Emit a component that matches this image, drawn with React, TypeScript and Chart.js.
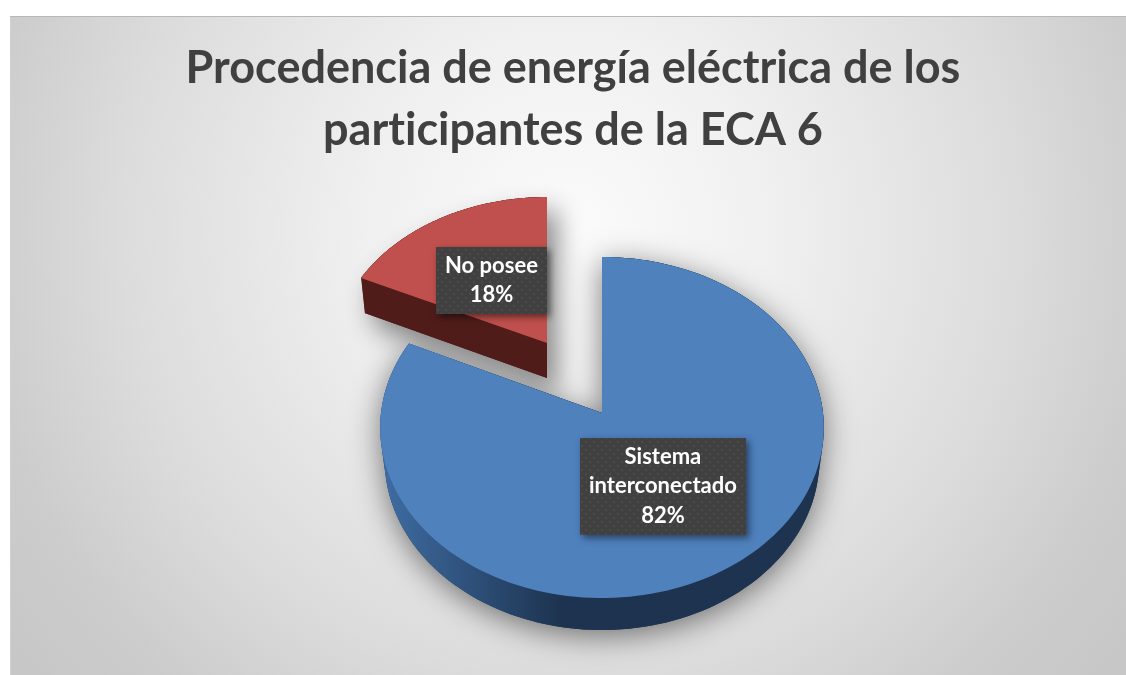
import React, { useEffect, useRef } from "react";
import { Chart, registerables } from "chart.js";

Chart.register(...registerables);

const categories = ["Sistema interconectado", "No posee"];
const seriesValues = [82, 18];
const titleLines = ["Procedencia de energía eléctrica de los", "participantes de la ECA 6"];

const FONT = "Lato, sans-serif";
const sliceLook = [
  { ax: 602, ay: 413, a: 221, b: 169.3, k: -0.085, depth: 32, labelDy: -1, top: "#4f81bd", side: ["#3f6da3", "#1d3350"], shadow: { x: 0, y: 6, blur: 30, c: "rgba(0,0,0,0.5)" } },
  { ax: 547, ay: 343, a: 212.7, b: 157.8, k: -0.081, depth: 35, labelDy: 2, top: "#c0504d", side: ["#4f1c1a", "#4f1c1a"], shadow: { x: 10, y: 14, blur: 26, c: "rgba(0,0,0,0.45)" } },
];

type Look = (typeof sliceLook)[number];

function project(s: Look, theta: number, r: number, t: number) {
  const x = r * Math.sin(theta);
  const y = -r * Math.cos(theta);
  const w = 1 + s.k * y;
  const shrink = 1 - 0.02 * (t / s.depth);
  return [s.ax + (shrink * s.a * x) / w, s.ay + (s.b * y) / w + t];
}

function sector(path: Path2D, s: Look, t0: number, t1: number, t: number) {
  const [ax, ay] = project(s, 0, 0, t);
  path.moveTo(ax, ay);
  const steps = 160;
  for (let i = 0; i <= steps; i++) {
    const [x, y] = project(s, t0 + ((t1 - t0) * i) / steps, 1, t);
    path.lineTo(x, y);
  }
  path.closePath();
}

function dotPattern(ctx: CanvasRenderingContext2D) {
  const c = document.createElement("canvas");
  c.width = 8;
  c.height = 8;
  const p = c.getContext("2d")!;
  p.fillStyle = "#404040";
  p.fillRect(0, 0, 8, 8);
  p.fillStyle = "#4b4b4b";
  p.beginPath();
  p.arc(2, 2, 1.2, 0, Math.PI * 2);
  p.arc(6, 6, 1.2, 0, Math.PI * 2);
  p.fill();
  return ctx.createPattern(c, "repeat")!;
}

const backgroundPlugin = {
  id: "frameBackground",
  beforeDraw(chart: any) {
    const ctx = chart.ctx as any;
    ctx.textRendering = "optimizeSpeed";
    ctx.save();
    ctx.fillStyle = "#ffffff";
    ctx.fillRect(0, 0, 1126, 675);
    const g = ctx.createRadialGradient(568, 230, 0, 568, 230, 720);
    g.addColorStop(0, "#fbfbfb");
    g.addColorStop(0.28, "#f0f0f0");
    g.addColorStop(0.62, "#dcdcdc");
    g.addColorStop(0.83, "#cccccc");
    g.addColorStop(1, "#c6c6c6");
    ctx.fillStyle = g;
    ctx.fillRect(10, 17, 1116, 658);
    ctx.fillStyle = "#b8b8b8";
    ctx.fillRect(10, 16, 1116, 1);
    ctx.fillStyle = "#d0d0d0";
    ctx.fillRect(10, 17, 1, 658);
    ctx.restore();
  },
};

const pie3dPlugin = {
  id: "pie3d",
  beforeDatasetsDraw(chart: any) {
    const ctx = chart.ctx as CanvasRenderingContext2D;
    const arcs = chart.getDatasetMeta(0).data;
    const shapes = arcs.map((arc: any, i: number) => {
      const s = sliceLook[i];
      const t0 = arc.startAngle + Math.PI / 2;
      const t1 = arc.endAngle + Math.PI / 2;
      const body = new Path2D();
      for (let t = 0; t <= s.depth; t++) sector(body, s, t0, t1, t);
      const top = new Path2D();
      sector(top, s, t0, t1, 0);
      return { s, t0, t1, body, top };
    });
    ctx.save();
    for (let i = shapes.length - 1; i >= 0; i--) {
      const { s, body } = shapes[i];
      ctx.save();
      ctx.shadowColor = s.shadow.c;
      ctx.shadowBlur = s.shadow.blur;
      ctx.shadowOffsetX = s.shadow.x;
      ctx.shadowOffsetY = s.shadow.y;
      ctx.fillStyle = s.side[1];
      ctx.fill(body);
      ctx.restore();
    }
    for (const { s, body, top, t0 } of shapes) {
      const [lx] = project(s, t0 + Math.PI * 1.5, 1, 0);
      const g = ctx.createLinearGradient(lx, 0, lx + 180, 0);
      g.addColorStop(0, s.side[0]);
      g.addColorStop(1, s.side[1]);
      ctx.fillStyle = g;
      ctx.fill(body);
      ctx.fillStyle = s.top;
      ctx.fill(top);
    }
    ctx.restore();
    return false;
  },
  afterDraw(chart: any) {
    const ctx = chart.ctx as CanvasRenderingContext2D;
    const arcs = chart.getDatasetMeta(0).data;
    const total = seriesValues.reduce((p, v) => p + v, 0);
    const pattern = dotPattern(ctx);
    ctx.save();
    ctx.font = `bold 22px ${FONT}`;
    ctx.textAlign = "center";
    ctx.textBaseline = "middle";
    arcs.forEach((arc: any, i: number) => {
      const s = sliceLook[i];
      const mid = (arc.startAngle + arc.endAngle) / 2 + Math.PI / 2;
      const [cx, cy] = project(s, mid, 0.5, 0);
      const words = ctx.measureText(categories[i]).width > 160 ? categories[i].split(" ") : [categories[i]];
      const lines = [...words, `${Math.round((seriesValues[i] / total) * 100)}%`];
      const w = Math.max(...lines.map((l) => ctx.measureText(l).width)) + 18;
      const lh = 29.5;
      const h = lines.length * lh + 8;
      const x = Math.round(cx - w / 2);
      const y = Math.round(cy - h / 2) + s.labelDy;
      ctx.save();
      ctx.shadowColor = "rgba(0,0,0,0.5)";
      ctx.shadowBlur = 7;
      ctx.shadowOffsetX = 3;
      ctx.shadowOffsetY = 3;
      ctx.fillStyle = "#404040";
      ctx.fillRect(x, y, w, h);
      ctx.restore();
      ctx.fillStyle = pattern;
      ctx.fillRect(x, y, w, h);
      ctx.fillStyle = "#ffffff";
      lines.forEach((l, j) => ctx.fillText(l, x + w / 2, y + 4 + lh * (j + 0.5)));
    });
    ctx.restore();
  },
};

export default function App() {
  const ref = useRef<HTMLCanvasElement>(null);
  useEffect(() => {
    const chart = new Chart(ref.current!, {
      type: "pie",
      data: {
        labels: categories,
        datasets: [{ data: seriesValues, backgroundColor: sliceLook.map((s) => s.top), borderWidth: 0 }],
      },
      options: {
        animation: false,
        responsive: false,
        layout: { padding: { left: 20, top: 37 } },
        plugins: {
          legend: { display: false },
          tooltip: { enabled: false },
          title: {
            display: true,
            text: titleLines,
            color: "#404040",
            font: { family: FONT, size: 45, weight: "bold", lineHeight: 1.38 },
            padding: { top: 0, bottom: 0 },
          },
        },
      },
      plugins: [backgroundPlugin, pie3dPlugin],
    } as any);
    return () => chart.destroy();
  }, []);
  return (
    <div style={{ position: "absolute", left: 0, top: 0, width: 1126, height: 675, overflow: "hidden" }}>
      <canvas ref={ref} width={1126} height={675} style={{ display: "block" }} />
    </div>
  );
}
